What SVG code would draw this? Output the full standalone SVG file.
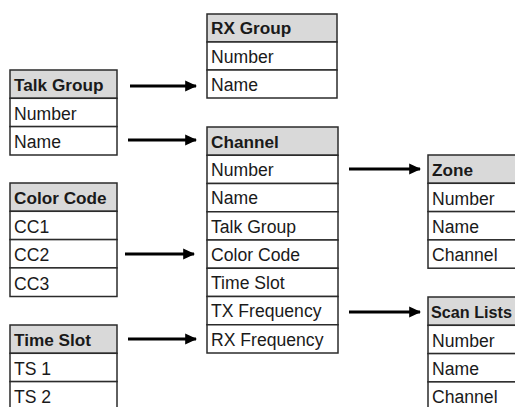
<svg xmlns="http://www.w3.org/2000/svg" width="515" height="407" viewBox="0 0 515 407">
<style>
.cell{fill:#ffffff;stroke:#2b2b2b;stroke-width:1.5}
.hdr{fill:#d9d9d9;stroke:#2b2b2b;stroke-width:1.5}
.t{font-family:"Liberation Sans",Arial,sans-serif;font-size:17.6px;fill:#1a1a1a}
.b{font-weight:bold;font-size:17.2px}
.conn{stroke:#000;stroke-width:3;fill:none;marker-end:url(#ah)}
</style>
<defs>
<marker id="ah" markerWidth="4" markerHeight="4" refX="3.6" refY="2" orient="auto" markerUnits="strokeWidth">
<path d="M0,0.2 L4,2 L0,3.8 z" fill="#000"/>
</marker>
</defs>
<rect width="515" height="407" fill="#ffffff"/>
<g id="rx-group">
<rect class="hdr" x="207" y="14" width="130" height="28"/>
<rect class="cell" x="207" y="42" width="130" height="28"/>
<rect class="cell" x="207" y="70" width="130" height="28"/>
<text class="t b" x="211" y="34">RX Group</text>
<text class="t" x="211" y="62.5">Number</text>
<text class="t" x="211" y="90.5">Name</text>
</g>
<g id="talk-group">
<rect class="hdr" x="10" y="70" width="107" height="28.3"/>
<rect class="cell" x="10" y="98.3" width="107" height="28.3"/>
<rect class="cell" x="10" y="126.6" width="107" height="28.4"/>
<text class="t b" x="14" y="91">Talk Group</text>
<text class="t" x="14" y="119.5">Number</text>
<text class="t" x="14" y="147.5">Name</text>
</g>
<g id="channel">
<rect class="hdr" x="207" y="127" width="131" height="28.25"/>
<rect class="cell" x="207" y="155.25" width="131" height="28.25"/>
<rect class="cell" x="207" y="183.5" width="131" height="28.25"/>
<rect class="cell" x="207" y="211.75" width="131" height="28.25"/>
<rect class="cell" x="207" y="240" width="131" height="28.25"/>
<rect class="cell" x="207" y="268.25" width="131" height="28.25"/>
<rect class="cell" x="207" y="296.5" width="131" height="28.25"/>
<rect class="cell" x="207" y="324.75" width="131" height="28.25"/>
<text class="t b" x="211" y="147.5">Channel</text>
<text class="t" x="211" y="176">Number</text>
<text class="t" x="211" y="204">Name</text>
<text class="t" x="211" y="232.5">Talk Group</text>
<text class="t" x="211" y="260.5">Color Code</text>
<text class="t" x="211" y="289">Time Slot</text>
<text class="t" x="211" y="317">TX Frequency</text>
<text class="t" x="211" y="345.5">RX Frequency</text>
</g>
<g id="color-code">
<rect class="hdr" x="10" y="183" width="107" height="28.3"/>
<rect class="cell" x="10" y="211.3" width="107" height="28.3"/>
<rect class="cell" x="10" y="239.6" width="107" height="28.3"/>
<rect class="cell" x="10" y="267.9" width="107" height="28.6"/>
<text class="t b" x="14" y="204">Color Code</text>
<text class="t" x="14" y="232.5">CC1</text>
<text class="t" x="14" y="261">CC2</text>
<text class="t" x="14" y="289.5">CC3</text>
</g>
<g id="time-slot">
<rect class="hdr" x="10" y="325" width="107" height="28.3"/>
<rect class="cell" x="10" y="353.3" width="107" height="28.3"/>
<rect class="cell" x="10" y="381.6" width="107" height="30"/>
<text class="t b" x="14" y="346">Time Slot</text>
<text class="t" x="14" y="374.5">TS 1</text>
<text class="t" x="14" y="403">TS 2</text>
</g>
<g id="zone">
<rect class="hdr" x="428" y="155" width="100" height="28.3"/>
<rect class="cell" x="428" y="183.3" width="100" height="28.3"/>
<rect class="cell" x="428" y="211.6" width="100" height="28.3"/>
<rect class="cell" x="428" y="239.9" width="100" height="28.3"/>
<text class="t b" x="432" y="176">Zone</text>
<text class="t" x="432" y="204.5">Number</text>
<text class="t" x="432" y="232.5">Name</text>
<text class="t" x="432" y="261">Channel</text>
</g>
<g id="scan-lists">
<rect class="hdr" x="428" y="297" width="100" height="28.3"/>
<rect class="cell" x="428" y="325.3" width="100" height="28.3"/>
<rect class="cell" x="428" y="353.6" width="100" height="28.3"/>
<rect class="cell" x="428" y="381.9" width="100" height="30"/>
<text class="t b" x="431" y="318" style="font-size:16.2px">Scan Lists</text>
<text class="t" x="432" y="346.5">Number</text>
<text class="t" x="432" y="374.5">Name</text>
<text class="t" x="432" y="403">Channel</text>
</g>
<g id="connectors">
<line class="conn" x1="130" y1="86" x2="196" y2="86"/>
<line class="conn" x1="128" y1="140" x2="196" y2="140"/>
<line class="conn" x1="125" y1="254" x2="194" y2="254"/>
<line class="conn" x1="128" y1="339" x2="196" y2="339"/>
<line class="conn" x1="349" y1="169" x2="420" y2="169"/>
<line class="conn" x1="349" y1="312" x2="420" y2="312"/>
</g>
</svg>
